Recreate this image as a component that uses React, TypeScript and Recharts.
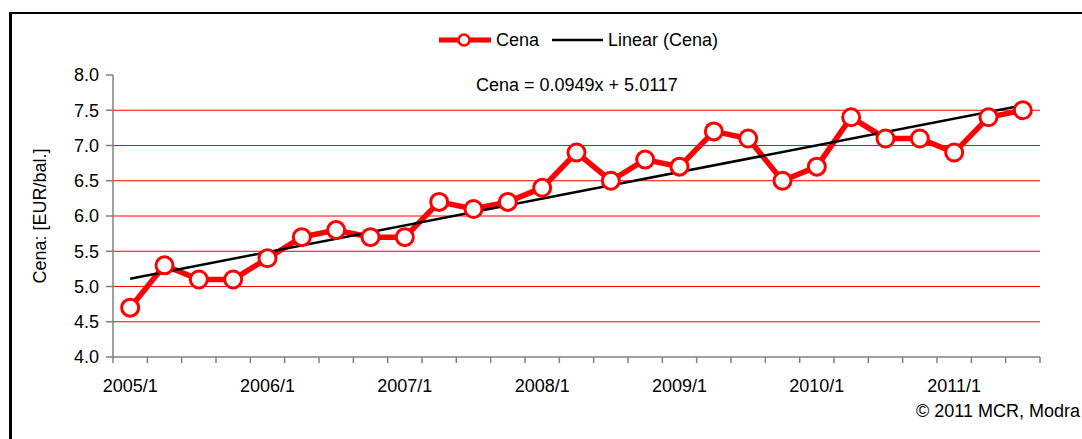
import { LineChart, Line, XAxis, YAxis, CartesianGrid } from 'recharts';

const quarters = [
  '2005/1', '2005/2', '2005/3', '2005/4',
  '2006/1', '2006/2', '2006/3', '2006/4',
  '2007/1', '2007/2', '2007/3', '2007/4',
  '2008/1', '2008/2', '2008/3', '2008/4',
  '2009/1', '2009/2', '2009/3', '2009/4',
  '2010/1', '2010/2', '2010/3', '2010/4',
  '2011/1', '2011/2', '2011/3',
];
const prices = [
  4.7, 5.3, 5.1, 5.1, 5.4, 5.7, 5.8, 5.7, 5.7, 6.2, 6.1, 6.2, 6.4, 6.9,
  6.5, 6.8, 6.7, 7.2, 7.1, 6.5, 6.7, 7.4, 7.1, 7.1, 6.9, 7.4, 7.5,
];
// trend line end points
const trendStart = 5.11;
const trendEnd = 7.57;
const yTicks = [4.0, 4.5, 5.0, 5.5, 6.0, 6.5, 7.0, 7.5, 8.0];
const gridValues = [4.5, 5.0, 5.5, 6.0, 6.5, 7.0, 7.5];
const equation = 'Cena = 0.0949x + 5.0117';
const yLabel = 'Cena: [EUR/bal.]';
const credit = '\u00A9 2011 MCR, Modra';

const font = '"Liberation Sans", Arial, sans-serif';
const RED = '#FF0000';
const AXIS = '#808080';
const TICK_SIZE = 6;
const TICK_MARGIN = 16;

const data = quarters.map((q, i) => ({
  x: i + 0.5,
  quarter: q,
  cena: prices[i],
  trend: i === 0 ? trendStart : i === quarters.length - 1 ? trendEnd : null,
}));

// tick marks sit on category boundaries, labels on every 4th category centre
const boundaryTicks = Array.from({ length: quarters.length + 1 }, (_, i) => i);
const labelTicks = data.filter((_, i) => i % 4 === 0).map((d) => d.x);
const xTicks = [...boundaryTicks, ...labelTicks].sort((a, b) => a - b);

function XTick({ x, y, payload }: any) {
  const v = payload.value as number;
  if (Number.isInteger(v)) {
    const y0 = y - TICK_MARGIN - TICK_SIZE;
    return <line x1={x} x2={x} y1={y0} y2={y0 + TICK_SIZE} stroke={AXIS} strokeWidth={1.5} />;
  }
  return (
    <text x={x} y={y} dy="0.71em" textAnchor="middle" fontSize={18} fontFamily={font} fill="#000">
      {quarters[Math.floor(v)]}
    </text>
  );
}

export default function App() {
  return (
    <div
      style={{
        position: 'absolute',
        left: 0,
        top: 0,
        width: 1082,
        height: 439,
        overflow: 'hidden',
        background: '#fff',
        fontFamily: font,
      }}
    >
      <div
        style={{
          position: 'absolute',
          left: 9,
          top: 12,
          width: 1200,
          height: 600,
          borderTop: '2px solid #000',
          borderLeft: '3px solid #000',
        }}
      />

      <LineChart
        width={1082}
        height={439}
        data={data}
        margin={{ top: 75, right: 42, left: 53, bottom: 52 }}
        style={{ position: 'absolute', left: 0, top: 0 }}
      >
        <CartesianGrid horizontal vertical={false} stroke={RED} strokeWidth={1} horizontalValues={gridValues} />
        <XAxis
          dataKey="x"
          type="number"
          domain={[0, quarters.length]}
          allowDataOverflow
          ticks={xTicks}
          interval={0}
          tick={<XTick />}
          tickLine={false}
          tickSize={TICK_SIZE}
          tickMargin={TICK_MARGIN}
          height={30}
          stroke={AXIS}
          axisLine={{ stroke: AXIS, strokeWidth: 1.5 }}
        />
        <YAxis
          domain={[4, 8]}
          ticks={yTicks}
          interval={0}
          width={60}
          tickSize={7}
          tickMargin={7}
          tickFormatter={(v: number) => v.toFixed(1)}
          stroke={AXIS}
          tickLine={{ stroke: AXIS, strokeWidth: 1.5 }}
          axisLine={{ stroke: AXIS, strokeWidth: 1.5 }}
          tick={{ fill: '#000', fontSize: 18, fontFamily: font }}
          label={{
            content: ({ viewBox }: any) => {
              const cx = viewBox.x - 13;
              const cy = viewBox.y + viewBox.height / 2;
              return (
                <text
                  x={cx}
                  y={cy}
                  transform={`rotate(-90 ${cx} ${cy})`}
                  textAnchor="middle"
                  dominantBaseline="central"
                  fontSize={18}
                  fontFamily={font}
                  fill="#000"
                >
                  {yLabel}
                </text>
              );
            },
          }}
        />
        <Line
          type="linear"
          dataKey="cena"
          stroke={RED}
          strokeWidth={5.5}
          dot={{ r: 8.5, fill: '#fff', stroke: RED, strokeWidth: 3 }}
          isAnimationActive={false}
        />
        <Line
          type="linear"
          dataKey="trend"
          stroke="#000"
          strokeWidth={2.5}
          dot={false}
          connectNulls
          isAnimationActive={false}
        />
      </LineChart>

      {/* legend */}
      <div
        style={{
          position: 'absolute',
          left: 439,
          top: 28,
          height: 24,
          display: 'flex',
          alignItems: 'center',
          fontSize: 18,
          color: '#000',
          whiteSpace: 'nowrap',
        }}
      >
        <svg width={52} height={20} style={{ marginRight: 5 }}>
          <line x1={0} y1={10} x2={52} y2={10} stroke={RED} strokeWidth={5} />
          <circle cx={25} cy={10} r={5.5} fill="#fff" stroke={RED} strokeWidth={2.5} />
        </svg>
        <span>Cena</span>
        <svg width={51} height={20} style={{ marginLeft: 13, marginRight: 5 }}>
          <line x1={0} y1={10} x2={51} y2={10} stroke="#000" strokeWidth={2.5} />
        </svg>
        <span>Linear (Cena)</span>
      </div>

      <div
        style={{
          position: 'absolute',
          left: 476,
          top: 75,
          fontSize: 18,
          color: '#000',
          whiteSpace: 'nowrap',
        }}
      >
        {equation}
      </div>

      <div
        style={{
          position: 'absolute',
          right: 2,
          top: 401,
          fontSize: 18,
          color: '#000',
          whiteSpace: 'nowrap',
        }}
      >
        {credit}
      </div>
    </div>
  );
}
